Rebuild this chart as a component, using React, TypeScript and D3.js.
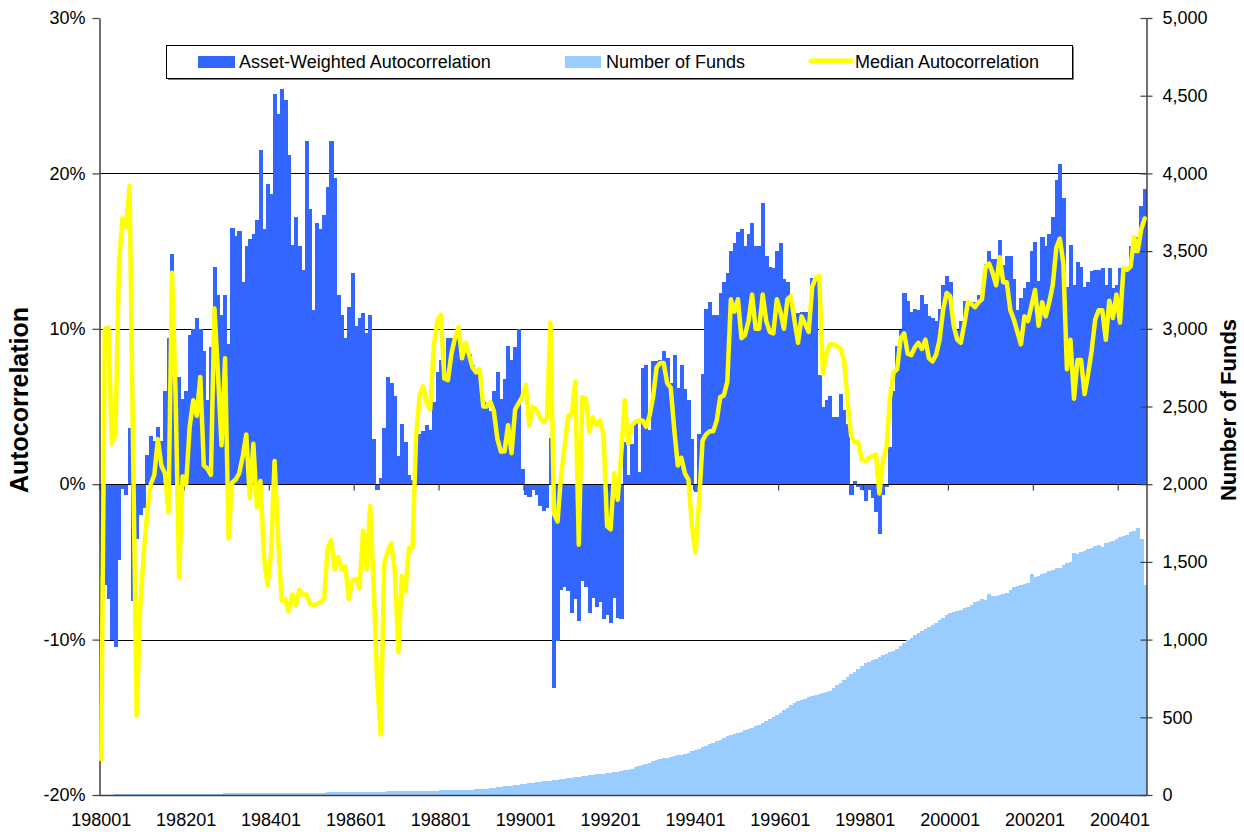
import React, { useEffect, useRef } from "react";
import * as d3 from "d3";

// monthly values, 1980-01 .. 2004-08 (296 months)
// asset-weighted autocorrelation, in percent
const assetWeighted = [
  -6.0, -6.5, -7.4, -10.0, -10.5, -4.9, -0.3, -0.7, 3.6, -7.5,
  -3.5, -2.0, -1.5, 1.9, 3.1, 2.8, 3.7, 2.8, 6.0, 9.4,
  14.8, 5.9, 6.9, 5.5, 6.0, 9.6, 10.0, 10.7, 10.0, 8.6,
  5.4, 8.8, 14.0, 12.2, 10.9, 12.2, 9.0, 16.5, 16.0, 16.3,
  13.0, 15.3, 15.8, 16.1, 17.0, 21.5, 16.4, 19.3, 18.7, 25.1,
  23.8, 25.4, 24.7, 21.2, 15.4, 17.2, 15.3, 13.8, 22.1, 17.7,
  11.2, 16.8, 16.4, 17.3, 19.1, 22.1, 19.7, 12.2, 10.9, 9.4,
  11.4, 13.6, 10.2, 10.7, 11.0, 9.7, 10.9, 2.9, -0.4, 0.4,
  3.6, 6.9, 6.5, 5.7, 1.8, 3.9, 2.7, 0.6, 0.3, 2.8,
  3.2, 3.4, 3.8, 3.5, 5.3, 7.2, 8.0, 7.2, 9.4, 9.4,
  9.3, 9.9, 9.0, 8.8, 8.4, 7.7, 7.4, 7.1, 5.3, 5.0,
  4.7, 6.0, 7.2, 5.5, 6.8, 8.9, 8.0, 8.8, 10.0, 1.0,
  -0.7, -0.8, -0.4, -0.7, -1.4, -1.7, -1.5, 3.0, -13.1, -10.1,
  -6.8, -6.6, -6.9, -8.3, -7.4, -8.8, -6.2, -6.6, -8.3, -7.3,
  -7.9, -7.6, -8.7, -8.4, -8.9, -7.3, -8.6, -8.7, 2.7, 0.6,
  2.6, 4.1, 0.8, 7.5, 7.7, 3.5, 7.9, 7.9, 8.0, 8.6,
  8.1, 6.5, 8.3, 6.2, 7.7, 6.1, 5.4, 2.9, -0.5, 3.2,
  7.1, 11.3, 11.7, 10.9, 10.9, 12.3, 13.0, 13.6, 15.0, 15.5,
  16.2, 16.4, 15.3, 16.1, 16.8, 15.3, 15.3, 18.1, 14.7, 14.0,
  13.9, 15.0, 15.5, 13.2, 13.0, 11.5, 10.9, 11.0, 11.1, 11.1,
  10.3, 13.3, 13.4, 7.0, 5.0, 5.4, 5.7, 4.3, 4.3, 5.8,
  4.8, 3.9, -0.7, 0.2, -0.2, -0.4, -1.1, -0.4, -0.9, -1.8,
  -3.2, -0.7, -0.2, 2.4, 6.0, 8.9, 9.9, 12.3, 11.8, 11.1,
  11.3, 11.2, 12.2, 11.6, 10.8, 10.7, 10.5, 11.3, 12.8, 13.4,
  13.0, 9.9, 9.9, 10.5, 11.8, 11.8, 11.5, 11.7, 12.2, 12.2,
  14.2, 15.0, 14.5, 14.5, 15.7, 14.1, 14.7, 14.7, 13.2, 11.2,
  12.0, 12.6, 13.0, 15.0, 15.6, 13.1, 15.9, 15.3, 16.1, 17.2,
  19.6, 20.6, 18.4, 12.7, 15.4, 12.8, 14.3, 14.0, 12.7, 13.0,
  13.7, 13.8, 13.8, 13.9, 12.8, 13.9, 12.6, 12.8, 13.9, 13.9,
  13.8, 15.3, 14.9, 15.9, 17.9, 19.0
];

// median autocorrelation, in percent
const medianAuto = [
  -17.7, 10.0, 10.1, 2.6, 3.2, 14.2, 17.1, 16.5, 19.2, 2.2,
  -14.9, -8.0, -4.5, -1.8, 0.0, 0.6, 2.9, 1.2, 0.7, -1.8,
  13.6, 5.9, -6.0, 0.5, 0.0, 3.7, 5.4, 4.4, 6.9, 1.2,
  1.0, 0.6, 11.3, 7.1, 2.5, 8.1, -3.5, 0.1, 0.3, 0.7,
  1.8, 3.2, -0.9, 2.6, -1.5, 0.2, -4.7, -6.5, -4.5, 1.5,
  -3.5, -7.5, -7.4, -8.2, -7.1, -7.8, -6.8, -7.1, -7.1, -7.7,
  -7.8, -7.7, -7.6, -7.4, -4.1, -3.6, -5.5, -4.7, -5.5, -5.3,
  -7.4, -6.2, -6.1, -6.7, -3.0, -5.5, -1.4, -6.5, -12.7, -16.1,
  -5.1, -4.3, -3.8, -5.6, -10.8, -5.9, -6.9, -4.1, -4.1, 3.1,
  5.7, 6.3, 5.2, 4.8, 8.9, 10.5, 10.9, 6.8, 6.7, 8.4,
  9.4, 10.1, 8.1, 9.1, 8.3, 7.5, 7.2, 7.4, 5.0, 5.0,
  5.3, 4.7, 2.9, 2.1, 2.1, 3.8, 2.0, 4.8, 5.2, 5.6,
  6.4, 3.8, 5.0, 4.8, 4.3, 4.0, 4.3, 10.4, -1.9, -2.4,
  0.6, 2.4, 4.4, 4.5, 6.6, -3.9, 5.6, 5.5, 3.4, 4.3,
  3.8, 4.1, 3.2, -2.7, -2.9, 0.7, -1.0, 2.0, 5.4, 2.6,
  3.8, 4.0, 4.1, 4.1, 3.7, 4.4, 5.6, 7.5, 7.8, 7.8,
  6.5, 6.2, 3.5, 1.2, 1.7, 0.7, 0.3, -2.7, -4.4, -1.2,
  2.8, 3.2, 3.4, 3.4, 4.1, 5.6, 5.7, 6.6, 11.9, 11.1,
  11.9, 9.4, 9.6, 10.5, 12.2, 10.0, 10.0, 12.2, 10.5, 9.8,
  9.7, 11.9, 11.1, 10.0, 11.9, 12.1, 10.5, 9.1, 10.8, 10.3,
  9.8, 12.7, 13.3, 13.4, 7.1, 8.4, 9.0, 9.0, 8.9, 8.7,
  8.0, 5.3, 3.1, 2.7, 2.7, 1.6, 1.5, 1.7, 1.8, 1.9,
  -0.6, 1.5, 2.4, 5.6, 7.2, 7.4, 9.4, 9.7, 8.4, 8.3,
  8.8, 9.1, 8.7, 9.3, 8.1, 7.9, 8.3, 9.3, 11.2, 12.3,
  12.1, 10.2, 9.3, 9.1, 10.3, 11.7, 11.6, 11.4, 11.7, 11.9,
  14.0, 14.2, 13.6, 12.8, 14.6, 13.0, 13.0, 11.2, 10.6, 9.8,
  9.0, 10.8, 10.5, 11.5, 12.5, 10.2, 11.7, 10.8, 11.7, 12.8,
  15.2, 15.8, 14.2, 7.4, 9.3, 5.5, 8.0, 8.0, 5.8, 7.1,
  8.6, 10.6, 11.2, 11.2, 9.3, 11.8, 10.7, 12.2, 10.4, 13.9,
  13.8, 14.0, 15.9, 15.0, 16.4, 17.1
];

// number of funds (right axis)
const numFunds = [
  3, 3, 3, 3, 4, 4, 4, 4, 4, 5,
  5, 5, 5, 5, 5, 6, 6, 6, 6, 6,
  7, 7, 7, 7, 7, 8, 8, 8, 8, 8,
  9, 9, 9, 9, 9, 10, 10, 10, 10, 10,
  11, 11, 11, 11, 11, 12, 12, 12, 12, 13,
  13, 13, 13, 14, 14, 14, 14, 15, 15, 15,
  16, 16, 16, 16, 17, 17, 17, 18, 18, 18,
  19, 19, 19, 20, 20, 20, 21, 21, 21, 22,
  22, 23, 23, 23, 24, 24, 24, 25, 25, 26,
  26, 26, 27, 27, 28, 28, 29, 29, 30, 30,
  31, 31, 32, 33, 34, 35, 36, 37, 39, 41,
  43, 46, 49, 52, 55, 58, 61, 64, 66, 69,
  72, 75, 78, 81, 84, 87, 90, 93, 96, 99,
  102, 105, 108, 111, 114, 117, 120, 123, 126, 129,
  132, 135, 138, 140, 143, 146, 150, 154, 158, 164,
  170, 177, 184, 192, 200, 208, 218, 228, 232, 236,
  240, 245, 250, 255, 260, 266, 273, 282, 290, 299,
  308, 317, 326, 335, 345, 357, 370, 378, 386, 393,
  400, 408, 416, 424, 432, 441, 452, 463, 475, 487,
  500, 515, 530, 546, 562, 578, 592, 605, 612, 620,
  628, 636, 644, 650, 658, 665, 672, 688, 705, 722,
  740, 758, 776, 794, 812, 830, 849, 858, 868, 878,
  888, 898, 908, 918, 928, 938, 958, 978, 997, 1012,
  1027, 1041, 1054, 1066, 1079, 1091, 1108, 1125, 1142, 1159,
  1168, 1176, 1184, 1193, 1202, 1212, 1225, 1239, 1250, 1262,
  1255, 1292, 1280, 1282, 1290, 1296, 1298, 1318, 1337, 1342,
  1350, 1358, 1366, 1419, 1405, 1412, 1420, 1428, 1440, 1448,
  1463, 1463, 1478, 1492, 1500, 1558, 1552, 1565, 1572, 1580,
  1590, 1600, 1608, 1598, 1620, 1628, 1636, 1650, 1661, 1668,
  1675, 1690, 1700, 1720, 1650, 1351
];

const months: string[] = [];
for (let i = 0; i < assetWeighted.length; i++) {
  const yr = 1980 + Math.floor(i / 12);
  const mo = (i % 12) + 1;
  months.push(`${yr}${mo < 10 ? "0" + mo : mo}`);
}

const xTickLabels = ["198001", "198201", "198401", "198601", "198801", "199001", "199201",
  "199401", "199601", "199801", "200001", "200201", "200401"];
const leftTicks = [-20, -10, 0, 10, 20, 30];
const rightTicks = [0, 500, 1000, 1500, 2000, 2500, 3000, 3500, 4000, 4500, 5000];
const gridValues = [-10, 10, 20];

const FONT = "'Liberation Sans', Arial, sans-serif";

export default function App() {
  const ref = useRef<SVGSVGElement>(null);

  useEffect(() => {
    const svg = d3.select(ref.current);
    svg.selectAll("*").remove();

    const x0 = 99.5, x1 = 1146.5, yTop = 18, yBot = 795;
    const x = d3.scaleBand().domain(months).range([x0, x1]).padding(0);
    const bw = x.bandwidth();
    const y = d3.scaleLinear().domain([-20, 30]).range([yBot, yTop]);
    const y2 = d3.scaleLinear().domain([0, 5000]).range([yBot, yTop]);

    // gridlines
    svg.append("g").selectAll("line").data(gridValues).enter().append("line")
      .attr("x1", x0).attr("x2", x1)
      .attr("y1", d => Math.round(y(d)) + 0.5).attr("y2", d => Math.round(y(d)) + 0.5)
      .attr("stroke", "#000").attr("stroke-width", 1);

    // number of funds
    svg.append("g").selectAll("rect").data(numFunds).enter().append("rect")
      .attr("x", (d, i) => x(months[i]) as number)
      .attr("y", d => y2(d))
      .attr("width", bw + 0.6)
      .attr("height", d => y2(0) - y2(d))
      .attr("fill", "#99CCFF")
      .attr("shape-rendering", "crispEdges");

    // asset-weighted autocorrelation
    svg.append("g").selectAll("rect").data(assetWeighted).enter().append("rect")
      .attr("x", (d, i) => x(months[i]) as number)
      .attr("y", d => y(Math.max(d, 0)))
      .attr("width", bw + 0.6)
      .attr("height", d => Math.abs(y(d) - y(0)))
      .attr("fill", "#3366FF")
      .attr("shape-rendering", "crispEdges");

    // zero axis with tick marks every 24 months
    const zy = Math.round(y(0)) + 0.5;
    svg.append("line").attr("x1", x0).attr("x2", x1).attr("y1", zy).attr("y2", zy)
      .attr("stroke", "#000").attr("stroke-width", 1);
    svg.append("g").selectAll("line").data(xTickLabels).enter().append("line")
      .attr("x1", d => (x(d) as number)).attr("x2", d => (x(d) as number))
      .attr("y1", zy).attr("y2", zy + 6)
      .attr("stroke", "#404040").attr("stroke-width", 1.2);

    // bottom line
    svg.append("line").attr("x1", x0).attr("x2", x1).attr("y1", yBot + 0.5).attr("y2", yBot + 0.5)
      .attr("stroke", "#404040").attr("stroke-width", 1.5);

    // left axis
    const left = svg.append("g").attr("transform", `translate(${x0},0)`)
      .call(d3.axisLeft(y).tickValues(leftTicks).tickFormat(d => `${d}%`).tickSize(7).tickSizeOuter(0).tickPadding(7));
    left.select(".domain").attr("stroke", "#404040").attr("stroke-width", 1.5);
    left.selectAll(".tick line").attr("stroke", "#404040").attr("stroke-width", 1.2);
    left.selectAll(".tick text").attr("font-family", FONT).attr("font-size", 18).attr("fill", "#000");

    // right axis
    const right = svg.append("g").attr("transform", `translate(${x1},0)`)
      .call(d3.axisRight(y2).tickValues(rightTicks).tickFormat(d3.format(",")).tickSize(6).tickSizeOuter(0).tickPadding(10));
    right.select(".domain").attr("stroke", "#404040").attr("stroke-width", 1.5);
    right.selectAll(".tick line").attr("x1", -6).attr("stroke", "#404040").attr("stroke-width", 1.2);
    right.selectAll(".tick text").attr("font-family", FONT).attr("font-size", 18).attr("fill", "#000");

    // category labels
    svg.append("g").selectAll("text").data(xTickLabels).enter().append("text")
      .attr("x", d => (x(d) as number) + bw / 2)
      .attr("y", 826)
      .attr("text-anchor", "middle")
      .attr("font-family", FONT).attr("font-size", 18)
      .text(d => d);

    // median autocorrelation line
    const line = d3.line<number>()
      .x((d, i) => (x(months[i]) as number) + bw / 2)
      .y(d => y(d));
    svg.append("path").datum(medianAuto)
      .attr("d", line)
      .attr("fill", "none")
      .attr("stroke", "#FFFF00")
      .attr("stroke-width", 4.5)
      .attr("stroke-linejoin", "round")
      .attr("stroke-linecap", "round");

    // axis titles
    svg.append("text")
      .attr("transform", "translate(28,400) rotate(-90)")
      .attr("text-anchor", "middle")
      .attr("font-family", FONT).attr("font-size", 25).attr("font-weight", "bold")
      .text("Autocorrelation");
    svg.append("text")
      .attr("transform", "translate(1236,410) rotate(-90)")
      .attr("text-anchor", "middle")
      .attr("font-family", FONT).attr("font-size", 22).attr("font-weight", "bold")
      .text("Number of Funds");

    // legend
    const lg = svg.append("g");
    lg.append("rect").attr("x", 168).attr("y", 47).attr("width", 906).attr("height", 33).attr("fill", "#808080");
    lg.append("rect").attr("x", 166.5).attr("y", 45.5).attr("width", 906).attr("height", 33)
      .attr("fill", "#fff").attr("stroke", "#000").attr("stroke-width", 1);
    lg.append("rect").attr("x", 198).attr("y", 56).attr("width", 37).attr("height", 12).attr("fill", "#3366FF");
    lg.append("text").attr("x", 239).attr("y", 68).attr("font-family", FONT).attr("font-size", 18)
      .text("Asset-Weighted Autocorrelation");
    lg.append("rect").attr("x", 565).attr("y", 56).attr("width", 36).attr("height", 12).attr("fill", "#99CCFF");
    lg.append("text").attr("x", 606).attr("y", 68).attr("font-family", FONT).attr("font-size", 18)
      .text("Number of Funds");
    lg.append("line").attr("x1", 811).attr("x2", 851).attr("y1", 61).attr("y2", 61)
      .attr("stroke", "#FFFF00").attr("stroke-width", 5).attr("stroke-linecap", "round");
    lg.append("text").attr("x", 855).attr("y", 68).attr("font-family", FONT).attr("font-size", 18)
      .text("Median Autocorrelation");
  }, []);

  return (
    <svg ref={ref} width={1244} height={832}
      style={{ position: "absolute", left: 0, top: 0, background: "#fff" }} />
  );
}
